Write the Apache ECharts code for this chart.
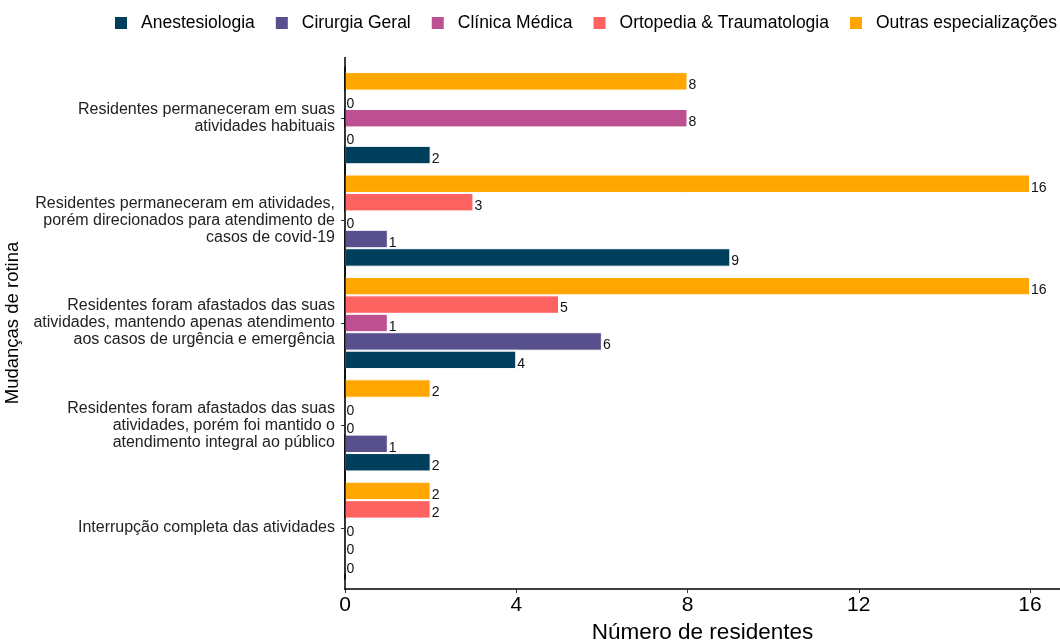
<!DOCTYPE html>
<html>
<head>
<meta charset="utf-8">
<script src="https://cdn.jsdelivr.net/npm/echarts@6/dist/echarts.min.js"></script>
<style>
  html, body { margin: 0; padding: 0; background: #fff; }
  #chart { width: 1060px; height: 642px; }
</style>
</head>
<body>
<div id="chart"></div>
<script>
// categories, top to bottom (y axis is inverted)
const categories = [
  'Residentes permaneceram em suas\natividades habituais',
  'Residentes permaneceram em atividades,\nporém direcionados para atendimento de\ncasos de covid-19',
  'Residentes foram afastados das suas\natividades, mantendo apenas atendimento\naos casos de urgência e emergência',
  'Residentes foram afastados das suas\natividades, porém foi mantido o\natendimento integral ao público',
  'Interrupção completa das atividades'
]

const anestesiologia = [2, 9, 4, 2, 0]
const cirurgiaGeral = [0, 1, 6, 1, 0]
const clinicaMedica = [8, 0, 1, 0, 0]
const ortopedia = [0, 3, 5, 0, 2]
const outras = [8, 16, 16, 2, 2]

const xTicks = [0, 4, 8, 12, 16]

const seriesDefs = [
  { name: 'Anestesiologia', data: anestesiologia, color: '#003f5c' },
  { name: 'Cirurgia Geral', data: cirurgiaGeral, color: '#58508d' },
  { name: 'Clínica Médica', data: clinicaMedica, color: '#bc5090' },
  { name: 'Ortopedia & Traumatologia', data: ortopedia, color: '#ff6361' },
  { name: 'Outras especializações', data: outras, color: '#ffa600' }
]

const chart = echarts.init(document.getElementById('chart'))
const font = 'Liberation Sans, Arial, sans-serif'

chart.setOption({
  animation: false,
  textStyle: { fontFamily: font },
  legend: {
    data: seriesDefs.map(s => s.name),
    left: 108,
    top: 9,
    width: 952,
    icon: 'rect',
    itemWidth: 14,
    itemHeight: 14,
    itemGap: 19,
    textStyle: { fontSize: 17.5, color: '#000', fontFamily: font, padding: [0, 0, 0, 8] }
  },
  grid: { left: 345, right: 0, top: 67, bottom: 63, outerBoundsMode: 'none', containLabel: false },
  xAxis: {
    type: 'value',
    min: 0,
    max: 16.7,
    interval: 4,
    offset: 10,
    name: 'Número de residentes',
    nameLocation: 'middle',
    nameGap: 31,
    nameTextStyle: { fontSize: 22.5, color: '#000', fontFamily: font },
    axisLine: { show: true, lineStyle: { color: '#000', width: 1.5 } },
    axisTick: { show: true, length: 4, lineStyle: { color: '#333' } },
    axisLabel: {
      fontSize: 21, color: '#000', margin: 6,
      formatter: v => (xTicks.includes(v) ? String(v) : '')
    },
    splitLine: { show: false }
  },
  yAxis: {
    type: 'category',
    inverse: true,
    data: categories,
    name: 'Mudanças de rotina',
    nameLocation: 'middle',
    nameGap: 305,
    nameTextStyle: { fontSize: 18.5, color: '#000', fontFamily: font },
    axisLine: { show: true, lineStyle: { color: '#000', width: 1.5 } },
    axisTick: { show: true, alignWithLabel: true, length: 4, lineStyle: { color: '#333' } },
    axisLabel: { fontSize: 16, color: '#222', lineHeight: 17, margin: 10, align: 'right' }
  },
  // y axis line runs past the category bands, like the expanded discrete scale
  graphic: [{
    type: 'line',
    shape: { x1: 345, y1: 57, x2: 345, y2: 590 },
    style: { stroke: '#000', lineWidth: 1.5 },
    z: 100
  }],
  // reversed so that Anestesiologia sits at the bottom of each group
  series: seriesDefs.slice().reverse().map(s => ({
    name: s.name,
    type: 'bar',
    data: s.data,
    barGap: '0%',
    barCategoryGap: '10%',
    itemStyle: { color: s.color, borderColor: '#fff', borderWidth: 1 },
    label: {
      show: true,
      position: 'right',
      distance: 1,
      offset: [0, 4],
      fontSize: 14,
      color: '#111'
    }
  }))
})

window.addEventListener('resize', () => chart.resize())
</script>
</body>
</html>
